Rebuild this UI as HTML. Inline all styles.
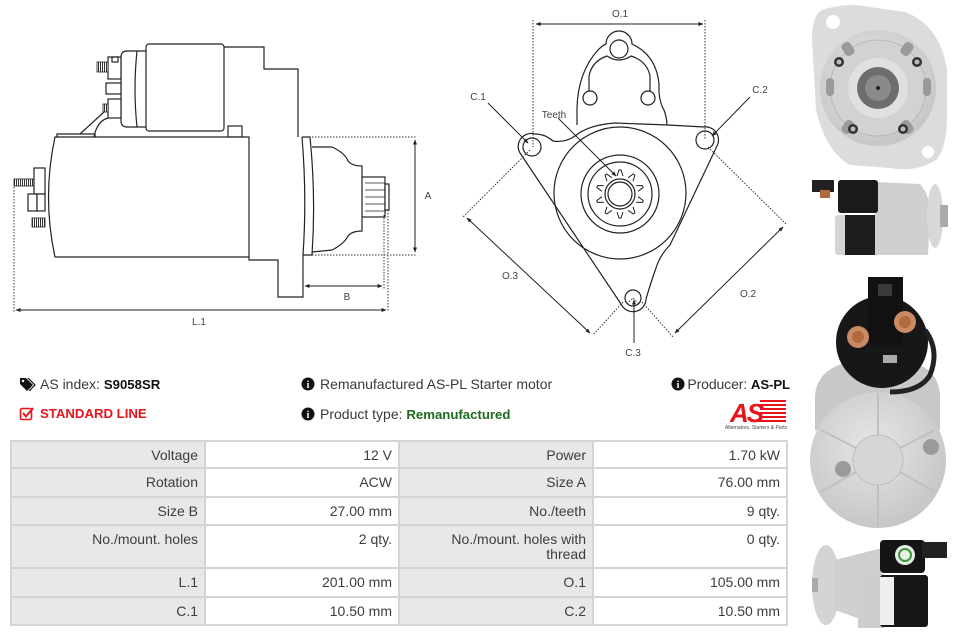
<!DOCTYPE html>
<html>
<head>
<meta charset="utf-8">
<style>
  html,body{margin:0;padding:0;background:#fff;}
  body{width:959px;height:636px;position:relative;overflow:hidden;font-family:"Liberation Sans",Arial,sans-serif;color:#3a3a3a;}
  .t{position:absolute;font-size:14px;line-height:16px;white-space:nowrap;}
  .t b{font-size:13.2px;}
  .grid{position:absolute;left:10px;top:440px;width:774px;padding:2px;background:#d4d4d4;display:grid;
        grid-template-columns:192px 192px 192px 192px;grid-template-rows:25px 27px 26px 41px 27px 26px;gap:2px;}
  .grid div{font-size:14px;line-height:15px;text-align:right;padding:6px 6px 0 4px;box-sizing:border-box;color:#3d3d3d;}
  .l{background:#e8e8e8;}
  .v{background:#fff;}
</style>
</head>
<body>
<svg width="959" height="636" style="position:absolute;left:0;top:0" xmlns="http://www.w3.org/2000/svg">
  <defs>
    <marker id="ah" viewBox="0 0 10 10" refX="9" refY="5" markerWidth="5" markerHeight="5" orient="auto-start-reverse">
      <path d="M0,1 L10,5 L0,9 Z" fill="#222"/>
    </marker>
    <pattern id="hatch" width="2" height="4" patternUnits="userSpaceOnUse">
      <rect width="2" height="4" fill="#fff"/><rect width="1" height="4" fill="#333"/>
    </pattern>
    <radialGradient id="gdisc" cx="45%" cy="40%" r="65%">
      <stop offset="0" stop-color="#e6e6e4"/><stop offset="1" stop-color="#c4c4c2"/>
    </radialGradient>
  </defs>

  <!-- ============ SIDE VIEW ============ -->
  <g fill="none" stroke="#222" stroke-width="1.2">
    <rect x="146" y="44" width="78" height="87" rx="3" fill="#fff"/>
    <path d="M146,51 L127,51 Q121,51 121,57 L121,121 Q121,127 127,127 L146,127"/>
    <path d="M137,51 Q133,89 137,127"/>
    <rect x="108" y="57" width="13" height="22" fill="#fff"/>
    <rect x="112" y="57" width="6" height="5"/>
    <rect x="97" y="62" width="11" height="10" fill="url(#hatch)" stroke-width="0.8"/>
    <rect x="106" y="83" width="15" height="11" fill="#fff"/>
    <rect x="108" y="99" width="13" height="19" fill="#fff"/>
    <rect x="103" y="104" width="5" height="8" fill="url(#hatch)" stroke-width="0.8"/>
    <path d="M104,112 L80,134"/>
    <path d="M108,118 Q97,121 94,137"/>
    <path d="M224,47 L264,47 L264,69 L298,69 L298,137"/>
    <rect x="228" y="126" width="14" height="11" fill="#fff"/>
    <path d="M57,137 L57,134 L95,134 L95,137"/>
    <path d="M55,137 Q42,197 55,257 L249,257 L249,137 Z" fill="#fff"/>
    <path d="M249,257 L249,260 L278,260 L278,297 L303,297 L303,255"/>
    <path d="M302,137 Q307,197 303,255"/>
    <path d="M302,137 L310,137 Q316,197 312,255 L303,255"/>
    <path d="M312,147 L332,147 Q345,153 348,161 Q352,166 362,166 L362,177"/>
    <path d="M362,217 L362,231 Q352,231 348,236 Q344,244 332,250 L312,252"/>
    <rect x="362" y="177" width="23" height="40" fill="#fff"/>
    <path d="M365,183 H385 M365,190 H385 M365,197 H385 M365,204 H385 M365,211 H385" stroke-width="0.8"/>
    <rect x="385" y="184" width="4" height="26" fill="#fff"/>
    <rect x="14" y="179" width="20" height="7" fill="url(#hatch)" stroke-width="0.8"/>
    <rect x="34" y="168" width="11" height="26" fill="#fff"/>
    <rect x="28" y="194" width="9" height="17" fill="#fff"/>
    <rect x="37" y="194" width="8" height="17" fill="#fff"/>
    <rect x="32" y="218" width="13" height="9" fill="url(#hatch)" stroke-width="0.8"/>
  </g>
  <g fill="none" stroke="#333" stroke-width="1" stroke-dasharray="1.5 1.5">
    <path d="M312,137 H417 M312,255 H417"/>
    <path d="M303,258 V297"/>
    <path d="M384,215 V290"/>
    <path d="M14,187 V312"/>
    <path d="M388,210 V312"/>
  </g>
  <g stroke="#222" stroke-width="1" fill="none">
    <line x1="415" y1="140" x2="415" y2="252" marker-start="url(#ah)" marker-end="url(#ah)"/>
    <line x1="305" y1="286" x2="382" y2="286" marker-start="url(#ah)" marker-end="url(#ah)"/>
    <line x1="16" y1="310" x2="386" y2="310" marker-start="url(#ah)" marker-end="url(#ah)"/>
  </g>
  <g font-family="Liberation Sans, sans-serif" font-size="10" fill="#444" text-anchor="middle">
    <text x="428" y="199">A</text>
    <text x="347" y="300">B</text>
    <text x="199" y="325">L.1</text>
  </g>

  <!-- ============ FRONT VIEW ============ -->
  <g fill="none" stroke="#222" stroke-width="1.2">
    <path d="M577,125 L577,108 Q578,72 598,50 Q603,45 606,44 A13,13 0 0 1 632,44 Q636,46 642,50 Q657,62 659,84 L659,92 Q660,104 664,110 Q667,118 667,126"/>
    <path d="M589,91 L589,76 Q592,61 607,56 Q619,64 631,56 Q647,61 650,76 L650,91"/>
    <circle cx="619" cy="49" r="9"/>
    <circle cx="590" cy="98" r="7"/>
    <circle cx="648" cy="98" r="7"/>
    <path d="M535,134 A13,13 0 0 0 520,153 L623,307 A13,13 0 0 0 646,299 Q650,285 656,268 Q660,255 670,245 L717,146 A13,13 0 0 0 704,127 L668,125 L615,123 Q588,125 575,136 Q565,143 553,141 Q545,134 535,134 Z" fill="#fff"/>
    <circle cx="532" cy="147" r="9"/>
    <circle cx="705" cy="140" r="9"/>
    <circle cx="633" cy="298" r="8"/>
    <circle cx="620" cy="193" r="66"/>
    <circle cx="620" cy="194" r="39"/>
    <circle cx="620" cy="194" r="32"/>
    <circle cx="620" cy="194" r="15"/>
    <circle cx="620" cy="194" r="12"/>
  </g>
  <g fill="none" stroke="#222" stroke-width="1">
    <path d="M617,176 L619,170 L621,170 L623,176" transform="rotate(0 620 194)"/>
    <path d="M617,176 L619,170 L621,170 L623,176" transform="rotate(36 620 194)"/>
    <path d="M617,176 L619,170 L621,170 L623,176" transform="rotate(72 620 194)"/>
    <path d="M617,176 L619,170 L621,170 L623,176" transform="rotate(108 620 194)"/>
    <path d="M617,176 L619,170 L621,170 L623,176" transform="rotate(144 620 194)"/>
    <path d="M617,176 L619,170 L621,170 L623,176" transform="rotate(180 620 194)"/>
    <path d="M617,176 L619,170 L621,170 L623,176" transform="rotate(216 620 194)"/>
    <path d="M617,176 L619,170 L621,170 L623,176" transform="rotate(252 620 194)"/>
    <path d="M617,176 L619,170 L621,170 L623,176" transform="rotate(288 620 194)"/>
    <path d="M617,176 L619,170 L621,170 L623,176" transform="rotate(324 620 194)"/>
  </g>
  <g fill="none" stroke="#333" stroke-width="1" stroke-dasharray="1.5 1.5">
    <path d="M533,20 V147 M705,20 V140"/>
    <path d="M530,150 L463,217 M623,302 L593,335"/>
    <path d="M708,147 L786,224 M642,302 L673,337"/>
    <path d="M627,304 L633,298 L639,304"/>
  </g>
  <g stroke="#222" stroke-width="1" fill="none">
    <line x1="536" y1="24" x2="703" y2="24" marker-start="url(#ah)" marker-end="url(#ah)"/>
    <line x1="467" y1="218" x2="590" y2="333" marker-start="url(#ah)" marker-end="url(#ah)"/>
    <line x1="783" y1="227" x2="675" y2="333" marker-start="url(#ah)" marker-end="url(#ah)"/>
    <line x1="488" y1="103" x2="528" y2="143" marker-end="url(#ah)"/>
    <line x1="750" y1="97" x2="712" y2="136" marker-end="url(#ah)"/>
    <line x1="558" y1="118" x2="616" y2="176" marker-end="url(#ah)"/>
    <line x1="634" y1="343" x2="634" y2="300" marker-end="url(#ah)"/>
  </g>
  <g font-family="Liberation Sans, sans-serif" font-size="10" fill="#444" text-anchor="middle">
    <text x="620" y="17">O.1</text>
    <text x="478" y="100">C.1</text>
    <text x="760" y="93">C.2</text>
    <text x="554" y="118">Teeth</text>
    <text x="510" y="279">O.3</text>
    <text x="748" y="297">O.2</text>
    <text x="633" y="356">C.3</text>
  </g>

  <!-- ============ PHOTOS ============ -->
  <path d="M822,10 Q845,2 870,7 L905,12 Q940,25 947,70 L947,120 Q946,150 936,160 Q915,173 890,168 L850,165 Q826,152 816,110 L812,40 Q812,15 822,10 Z" fill="#dcdcda"/>
  <circle cx="833" cy="22" r="7" fill="#fff"/>
  <circle cx="928" cy="152" r="6" fill="#fff"/>
  <circle cx="878" cy="88" r="58" fill="url(#gdisc)"/>
  <circle cx="878" cy="88" r="48" fill="#d2d2d0" stroke="#b8b8b6" stroke-width="1"/>
  <g fill="#9a9a98">
    <rect x="843" y="42" width="10" height="14" rx="4" transform="rotate(-35 848 49)"/>
    <rect x="902" y="42" width="10" height="14" rx="4" transform="rotate(35 907 49)"/>
    <rect x="826" y="78" width="8" height="18" rx="4"/>
    <rect x="923" y="78" width="8" height="18" rx="4"/>
    <rect x="843" y="120" width="10" height="14" rx="4" transform="rotate(35 848 127)"/>
    <rect x="902" y="120" width="10" height="14" rx="4" transform="rotate(-35 907 127)"/>
  </g>
  <circle cx="878" cy="88" r="30" fill="#e0e0de"/>
  <circle cx="878" cy="88" r="21" fill="#6d6d6b"/>
  <circle cx="878" cy="88" r="13" fill="#8a8a88"/>
  <circle cx="878" cy="88" r="2" fill="#222"/>
  <g fill="#333"><circle cx="839" cy="62" r="5"/><circle cx="917" cy="62" r="5"/><circle cx="853" cy="129" r="5"/><circle cx="903" cy="129" r="5"/></g>
  <g fill="#bbb"><circle cx="839" cy="62" r="2.5"/><circle cx="917" cy="62" r="2.5"/><circle cx="853" cy="129" r="2.5"/><circle cx="903" cy="129" r="2.5"/></g>

  <rect x="835" y="215" width="12" height="40" rx="3" fill="#d4d4d2"/>
  <rect x="845" y="215" width="32" height="40" fill="#1d1d1d"/>
  <path d="M875,182 L920,184 Q930,195 930,215 L928,255 L875,255 Z" fill="#cfcfcd"/>
  <rect x="838" y="180" width="40" height="33" rx="3" fill="#1a1a1a"/>
  <rect x="812" y="180" width="22" height="12" fill="#222"/>
  <rect x="820" y="190" width="10" height="8" fill="#b06a3c"/>
  <ellipse cx="935" cy="216" rx="8" ry="32" fill="#d8d8d6"/>
  <rect x="940" y="205" width="8" height="22" fill="#aaa"/>

  <path d="M815,395 Q818,368 850,362 L910,362 Q938,368 940,395 L940,430 L815,430 Z" fill="#c8c8c6"/>
  <circle cx="878" cy="460" r="68" fill="url(#gdisc)"/>
  <circle cx="878" cy="460" r="25" fill="#d6d6d4" stroke="#bdbdbb"/>
  <g stroke="#c0c0be" stroke-width="2"><line x1="878" y1="435" x2="878" y2="393"/><line x1="900" y1="448" x2="935" y2="430"/><line x1="856" y1="448" x2="821" y2="430"/><line x1="878" y1="485" x2="878" y2="527"/><line x1="856" y1="472" x2="821" y2="492"/><line x1="900" y1="472" x2="935" y2="492"/></g>
  <circle cx="843" cy="469" r="8" fill="#9a9a98"/>
  <circle cx="931" cy="447" r="8" fill="#9a9a98"/>
  <ellipse cx="882" cy="342" rx="46" ry="46" fill="#171717"/>
  <path d="M925,330 Q940,350 930,375 Q920,392 890,392" fill="none" stroke="#222" stroke-width="5"/>
  <rect x="868" y="277" width="35" height="68" fill="#111"/>
  <rect x="878" y="284" width="14" height="12" fill="#3a3a3a"/>
  <circle cx="858" cy="337" r="11" fill="#c98a64"/>
  <circle cx="858" cy="337" r="6" fill="#b06a3c"/>
  <circle cx="905" cy="322" r="11" fill="#c98a64"/>
  <circle cx="905" cy="322" r="6" fill="#b06a3c"/>
  <rect x="883" y="355" width="14" height="8" fill="#aaa"/>

  <ellipse cx="826" cy="585" rx="14" ry="40" fill="#d4d4d2"/>
  <path d="M835,560 L882,548 L882,627 L835,610 Z" fill="#cfcfcd"/>
  <rect x="858" y="574" width="26" height="54" fill="#cdcdcb"/>
  <rect x="880" y="540" width="45" height="33" rx="4" fill="#151515"/>
  <circle cx="905" cy="555" r="10" fill="#e8efe6"/>
  <circle cx="905" cy="555" r="6" fill="none" stroke="#3a9a3a" stroke-width="2"/>
  <rect x="922" y="542" width="25" height="16" fill="#222"/>
  <rect x="880" y="575" width="48" height="52" rx="3" fill="#171717"/>
  <rect x="880" y="577" width="14" height="48" fill="#efefef"/>
  <rect x="812" y="578" width="6" height="14" fill="#aaa"/>

  <!-- ============ ICONS ============ -->
  <path d="M20,378 L26,378 L33,385 L27,391 L20,384 Z" fill="#111"/>
  <circle cx="23" cy="381" r="1.2" fill="#fff"/>
  <path d="M28,378 L35,385 L29,391" fill="none" stroke="#111" stroke-width="1.2"/>
  <rect x="20.5" y="408.5" width="11" height="11" rx="1.5" fill="none" stroke="#e8141b" stroke-width="1.6"/>
  <path d="M23,413 L26,416.5 L33,408" fill="none" stroke="#e8141b" stroke-width="2"/>
  <g>
    <circle cx="308" cy="384" r="6.5" fill="#111"/>
    <circle cx="308" cy="414" r="6.5" fill="#111"/>
    <circle cx="678" cy="384" r="6.5" fill="#111"/>
  </g>
  <g font-family="Liberation Serif, serif" font-weight="bold" font-size="10" fill="#fff" text-anchor="middle">
    <text x="308" y="388">i</text>
    <text x="308" y="418">i</text>
    <text x="678" y="388">i</text>
  </g>
  <g fill="#e8141b">
    <rect x="760" y="400" width="26" height="2"/>
    <rect x="760" y="404" width="26" height="2"/>
    <rect x="760" y="408" width="26" height="2"/>
    <rect x="760" y="412" width="26" height="2"/>
    <rect x="760" y="416" width="26" height="2"/>
    <rect x="758" y="420" width="28" height="2"/>
  </g>
  <text x="730" y="422" font-family="Liberation Sans, sans-serif" font-weight="bold" font-style="italic" font-size="26" fill="#e8141b" letter-spacing="-2">AS</text>
  <text x="756" y="429" font-family="Liberation Sans, sans-serif" font-size="5" fill="#444" text-anchor="middle">Alternators, Starters &amp; Parts</text>
</svg>

<div class="t" style="left:40px;top:376px;">AS index: <b style="color:#111">S9058SR</b></div>
<div class="t" style="left:320px;top:376px;">Remanufactured AS-PL Starter motor</div>
<div class="t" style="right:169px;top:376px;letter-spacing:-0.1px;">Producer: <b style="color:#111">AS-PL</b></div>
<div class="t" style="left:40px;top:406px;color:#e8141b;font-weight:bold;font-size:13.2px;">STANDARD LINE</div>
<div class="t" style="left:320px;top:406px;">Product type: <b style="color:#1e6b1e">Remanufactured</b></div>

<div class="grid">
  <div class="l">Voltage</div><div class="v">12 V</div><div class="l">Power</div><div class="v">1.70 kW</div>
  <div class="l">Rotation</div><div class="v">ACW</div><div class="l">Size A</div><div class="v">76.00 mm</div>
  <div class="l">Size B</div><div class="v">27.00 mm</div><div class="l">No./teeth</div><div class="v">9 qty.</div>
  <div class="l">No./mount. holes</div><div class="v">2 qty.</div><div class="l">No./mount. holes with<br>thread</div><div class="v">0 qty.</div>
  <div class="l">L.1</div><div class="v">201.00 mm</div><div class="l">O.1</div><div class="v">105.00 mm</div>
  <div class="l">C.1</div><div class="v">10.50 mm</div><div class="l">C.2</div><div class="v">10.50 mm</div>
</div>
</body>
</html>
